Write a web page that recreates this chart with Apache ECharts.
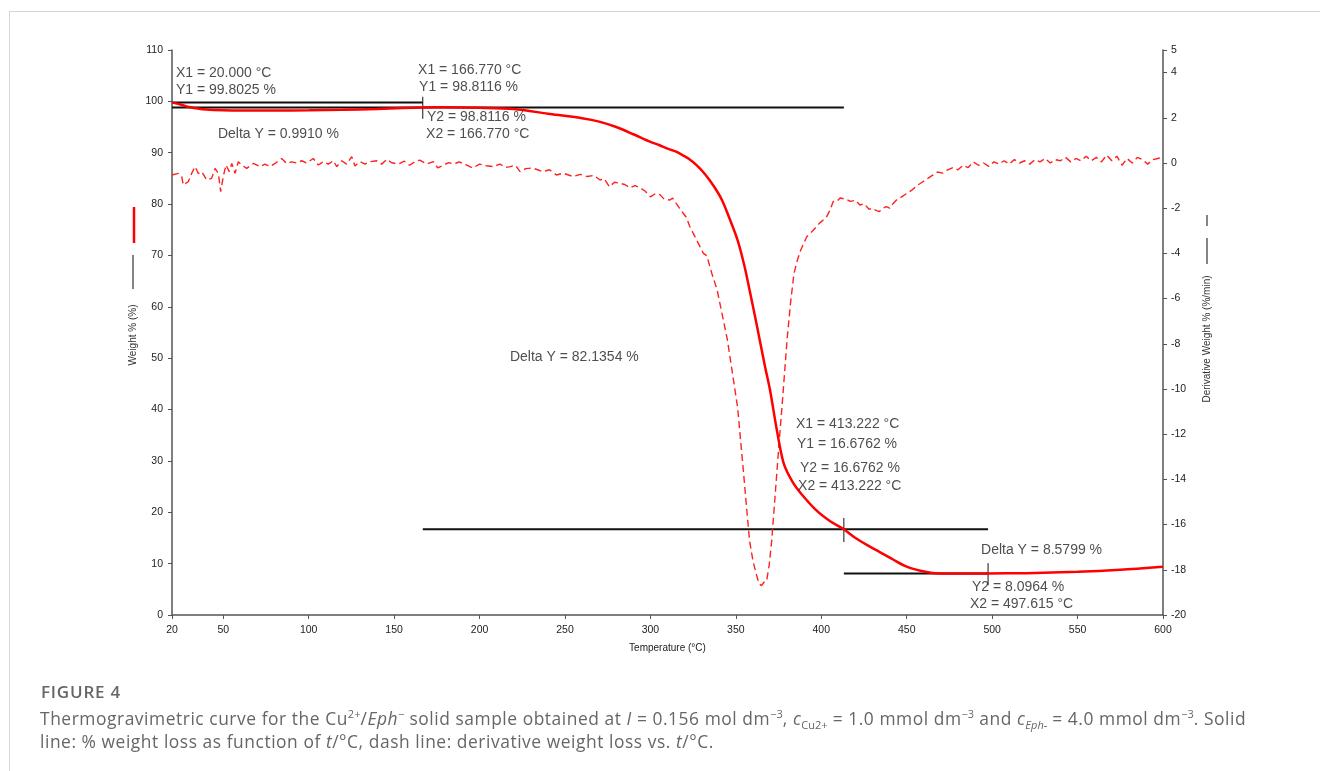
<!DOCTYPE html>
<html>
<head>
<meta charset="utf-8">
<title>Thermogravimetric curve</title>
<style>
  html, body { margin: 0; padding: 0; background: #fff; width: 1320px; height: 771px; overflow: hidden; }
  #frame { position: absolute; left: 9px; top: 11px; right: -5px; bottom: -5px; border: 1px solid #d6d6d6; }
  #chart { position: absolute; left: 0; top: 0; width: 1320px; height: 771px; }
  #fig-title { position: absolute; left: 41px; top: 680px; font-family: 'Open Sans', 'Lato', sans-serif; font-size: 17px; font-weight: 600; color: #666; letter-spacing: 0.8px; }
  #fig-caption { position: absolute; left: 40px; top: 707px; font-family: 'Open Sans', 'Lato', sans-serif; font-size: 17.4px; line-height: 23px; color: #666; white-space: nowrap; letter-spacing: 0.55px; }
  #fig-caption sup, #fig-caption sub { font-size: 11px; line-height: 0; letter-spacing: 0; }
</style>
</head>
<body>
<div id="frame"></div>
<div id="chart"></div>
<div id="fig-title">FIGURE 4</div>
<div id="fig-caption">Thermogravimetric curve for the Cu<sup>2+</sup>/<i>Eph</i><sup>−</sup> solid sample obtained at <i>I</i> = 0.156 mol dm<sup>−3</sup>, <i>c</i><sub>Cu2+</sub> = 1.0 mmol dm<sup>−3</sup> and <i>c</i><sub><i>Eph-</i></sub> = 4.0 mmol dm<sup>−3</sup>. Solid<br>line: % weight loss as function of <i>t</i>/°C, dash line: derivative weight loss vs. <i>t</i>/°C.</div>

<script src="https://cdn.jsdelivr.net/npm/echarts@6/dist/echarts.min.js"></script>
<script>
// temperature ticks shown on the x axis
var tempTicks = [20, 50, 100, 150, 200, 250, 300, 350, 400, 450, 500, 550, 600];
var derivTicks = [-20, -18, -16, -14, -12, -10, -8, -6, -4, -2, 0, 2, 4, 5];

// weight % vs temperature (solid line)
var weightCurve = [
  [20, 99.8], [25, 99.4], [30, 98.9], [35, 98.6], [40, 98.4], [50, 98.25], [60, 98.2],
  [80, 98.2], [100, 98.25], [120, 98.35], [140, 98.5], [155, 98.7], [166.77, 98.81],
  [180, 98.85], [200, 98.75], [220, 98.5], [240, 97.6], [260, 96.7], [270, 96.05],
  [280, 95.0], [290, 93.6], [300, 92.1], [305, 91.5], [310, 90.8], [315, 90.2],
  [319, 89.5], [323, 88.7], [327, 87.6], [331, 86.2], [335, 84.5], [339, 82.5],
  [342, 80.7], [345, 78.3], [351, 73.0], [355, 68.0], [358, 63.3],
  [361, 58.5], [364, 53.5], [367, 48.5], [370, 43.8], [374, 36.0], [378, 29.5],
  [383, 26.0], [388, 23.7], [397, 20.4], [405, 18.3], [413.2, 16.68], [420, 15.0],
  [428, 13.4], [434, 12.3], [442, 10.8], [450, 9.4], [458, 8.6], [465, 8.2],
  [475, 8.1], [497.6, 8.1], [520, 8.15], [550, 8.4], [575, 8.8], [600, 9.4]
];

// derivative weight % (%/min) vs temperature (dashed line)
var derivCurve = [
  [20, -0.53], [23.7, -0.46], [25.7, -0.6], [26.6, -0.97], [29.5, -0.83], [31.5, -0.46],
  [33.5, -0.16], [35.4, -0.46], [37.4, -0.38], [40.3, -0.75], [43.2, -0.68], [45.2, -0.24],
  [47.1, -0.46], [48.5, -1.27], [50, -0.6], [51.6, -0.09], [53.5, -0.38], [55, -0.02],
  [56.9, -0.46], [58.8, 0.06], [60.8, -0.09], [63.7, -0.24], [67.6, -0.02], [71.5, -0.16],
  [74.4, -0.05], [77.4, -0.16], [80.3, -0.02], [84.2, 0.2], [87.1, -0.02], [90, 0.05],
  [93, 0], [95.9, 0.1], [98.8, 0], [102.7, 0.2], [105.6, -0.09], [108.6, 0.06],
  [111.5, -0.05], [114.4, 0.1], [116.4, -0.16], [119.3, 0.1], [122.2, -0.05], [125.2, 0.28],
  [127.1, -0.13], [130, 0.06], [133, -0.05], [135.9, 0.06], [139.8, 0.1], [142.7, -0.05],
  [145.7, 0.16], [148.6, 0.01], [152.5, -0.05], [156, 0.08], [159, -0.1], [162, 0.05],
  [165, 0.13], [169, -0.05], [173, 0.06], [175.5, -0.22], [178.6, -0.1], [182, 0.02],
  [185, -0.05], [188, 0.05], [192.6, -0.09], [196, -0.22], [200, -0.05], [204, -0.12],
  [208, -0.16], [212, -0.05], [215, -0.2], [218, -0.16], [221, -0.1], [223.7, -0.38],
  [227, -0.25], [231, -0.22], [234, -0.3], [237, -0.38], [241, -0.3], [245, -0.53],
  [249, -0.45], [254.7, -0.6], [259, -0.5], [263, -0.6], [267, -0.55], [270.5, -0.75],
  [273, -0.7], [276, -1.05], [279, -0.85], [282, -0.9], [285, -0.95], [288, -1.1],
  [291, -1.0], [294, -1.1], [297, -1.25], [300, -1.5], [303, -1.35], [305.6, -1.4],
  [308, -1.6], [311.5, -1.64], [313, -1.55], [315, -1.78], [317, -2.0], [319, -2.2],
  [321, -2.4], [323, -2.8], [325, -3.1], [327, -3.4], [329, -3.7], [331, -4.0],
  [333, -4.1], [336, -4.9], [339, -5.6], [342, -6.7], [345, -7.8], [348, -9.3],
  [351, -10.8], [354.5, -13.7], [356, -15.0], [358, -16.7], [360, -17.6], [362, -18.2],
  [363.5, -18.6], [365, -18.7], [366.5, -18.55], [368, -18.5], [369.5, -17.8], [371, -16.7],
  [372.5, -15.2], [374, -13.7], [375.5, -12.2], [377, -10.8], [378.5, -9.3], [380, -7.8],
  [382, -6.2], [384, -4.9], [386, -4.3], [388, -3.85], [391.5, -3.26], [395, -3.0],
  [399, -2.66], [403, -2.4], [405, -2.1], [407, -1.7], [409, -1.7], [411, -1.55],
  [414.6, -1.6], [417, -1.7], [420, -1.65], [422.6, -1.86], [425, -1.8], [428, -2.05],
  [430, -2.0], [432, -2.1], [434, -2.15], [436, -2.0], [438, -1.93], [440, -2.0],
  [442, -1.8], [444, -1.64], [447, -1.5], [450, -1.35], [453, -1.2], [456, -1.0],
  [459, -0.85], [462, -0.7], [465, -0.55], [468, -0.4], [471, -0.45], [474, -0.3],
  [477, -0.2], [480, -0.3], [483, -0.1], [486, -0.2], [489, 0.05], [492, -0.1],
  [495, 0.0], [498, -0.15], [501, 0.05], [504, -0.05], [507, 0.1], [510, -0.05],
  [513, 0.15], [516, 0.0], [519, 0.1], [522, -0.05], [525, 0.15], [528, 0.05],
  [531, 0.2], [534, 0.0], [537, 0.15], [540, 0.1], [543, 0.25], [546, 0.05],
  [549, 0.2], [552, 0.1], [555, 0.3], [558, 0.1], [561, 0.25], [564, 0.05],
  [567, 0.35], [570, 0.1], [573, 0.3], [576, -0.1], [579, 0.2], [582, 0.0],
  [585, 0.25], [588, 0.15], [591, -0.05], [594, 0.15], [597, 0.2], [600, 0.25]
];

// cursor lines of the analysis software (weight axis)
var cursorLines = [
  [[20, 99.8025], [166.77, 99.8025]],
  [[20, 98.8116], [413.222, 98.8116]],
  [[166.77, 16.6762], [497.615, 16.6762]],
  [[413.222, 8.0964], [497.615, 8.0964]]
];
var cursorTicks = [
  [[166.77, 100.9], [166.77, 96.6]],
  [[413.222, 18.9], [413.222, 14.2]],
  [[497.615, 10.1], [497.615, 5.8]]
];

// annotation texts, anchored at their left-middle point
var notes = [
  [22.3, 105.5, 'X1 = 20.000 °C'],
  [22.3, 102.2, 'Y1 = 99.8025 %'],
  [46.9, 93.65, 'Delta Y = 0.9910 %'],
  [164.0, 106.1, 'X1 = 166.770 °C'],
  [164.6, 102.8, 'Y1 = 98.8116 %'],
  [169.2, 97.0, 'Y2 = 98.8116 %'],
  [168.7, 93.65, 'X2 = 166.770 °C'],
  [217.8, 50.2, 'Delta Y = 82.1354 %'],
  [385.2, 37.2, 'X1 = 413.222 °C'],
  [385.8, 33.3, 'Y1 = 16.6762 %'],
  [387.5, 28.6, 'Y2 = 16.6762 %'],
  [386.4, 25.1, 'X2 = 413.222 °C'],
  [493.5, 12.7, 'Delta Y = 8.5799 %'],
  [488.2, 5.45, 'Y2 = 8.0964 %'],
  [487.0, 2.14, 'X2 = 497.615 °C']
];

var FONT = 'Liberation Sans, Arial, sans-serif';
var chart = echarts.init(document.getElementById('chart'));

var series = [];
cursorLines.concat(cursorTicks).forEach(function (seg, i) {
  series.push({
    type: 'line', data: seg, symbol: 'none', silent: true, z: 1,
    lineStyle: { color: '#111', width: i < cursorLines.length ? 2 : 1 }
  });
});
series.push({
  name: 'Weight', type: 'line', data: weightCurve, symbol: 'none', smooth: 0.3, z: 3,
  lineStyle: { color: '#ff0000', width: 2.5 }
});
series.push({
  name: 'Derivative', type: 'line', yAxisIndex: 1, data: derivCurve, symbol: 'none', z: 2,
  lineStyle: { color: '#ff2020', width: 1.4, type: [7, 4] }
});
series.push({
  type: 'scatter', symbolSize: 0, silent: true, z: 5,
  data: notes.map(function (n) { return { value: [n[0], n[1]], name: n[2] }; }),
  label: {
    show: true, position: 'right', distance: 0, formatter: '{b}',
    fontFamily: FONT, fontSize: 14, color: '#222'
  }
});

chart.setOption({
  animation: false,
  grid: { left: 172, right: 157, top: 50, bottom: 156 },
  xAxis: {
    type: 'value', min: 20, max: 600,
    name: 'Temperature (°C)', nameLocation: 'middle', nameGap: 28,
    nameTextStyle: { fontFamily: FONT, fontSize: 10, color: '#222' },
    axisLine: { lineStyle: { color: '#555', width: 1.5 } },
    axisTick: { customValues: tempTicks, length: 4, lineStyle: { color: '#555' } },
    axisLabel: { customValues: tempTicks, fontFamily: FONT, fontSize: 10.5, color: '#222', margin: 10 },
    splitLine: { show: false }
  },
  yAxis: [{
    type: 'value', min: 0, max: 110, interval: 10,
    axisLine: { show: true, lineStyle: { color: '#555', width: 1.5 } },
    axisTick: { show: true, length: 4, lineStyle: { color: '#555' } },
    axisLabel: { fontFamily: FONT, fontSize: 10.5, color: '#222', margin: 9 },
    splitLine: { show: false }
  }, {
    type: 'value', min: -20, max: 5, position: 'right',
    axisLine: { show: true, lineStyle: { color: '#555', width: 1.5 } },
    axisTick: { show: true, customValues: derivTicks, length: 4, lineStyle: { color: '#555' } },
    axisLabel: { customValues: derivTicks, fontFamily: FONT, fontSize: 10.5, color: '#222', margin: 8 },
    splitLine: { show: false }
  }],
  graphic: [
    { type: 'text', x: 133, y: 335, rotation: Math.PI / 2,
      style: { text: 'Weight % (%)', font: '10px ' + FONT, fill: '#333', align: 'center', verticalAlign: 'middle' } },
    { type: 'line', shape: { x1: 133, y1: 255, x2: 133, y2: 289 }, style: { stroke: '#333', lineWidth: 1.2 } },
    { type: 'line', shape: { x1: 134, y1: 207, x2: 134, y2: 243 }, style: { stroke: '#ff0000', lineWidth: 2.5 } },
    { type: 'text', x: 1207, y: 339, rotation: Math.PI / 2,
      style: { text: 'Derivative Weight % (%/min)', font: '10px ' + FONT, fill: '#333', align: 'center', verticalAlign: 'middle' } },
    { type: 'line', shape: { x1: 1207, y1: 238, x2: 1207, y2: 264 }, style: { stroke: '#333', lineWidth: 1.2 } },
    { type: 'line', shape: { x1: 1207, y1: 215, x2: 1207, y2: 226 }, style: { stroke: '#333', lineWidth: 1.2 } }
  ],
  series: series
});
</script>
</body>
</html>
